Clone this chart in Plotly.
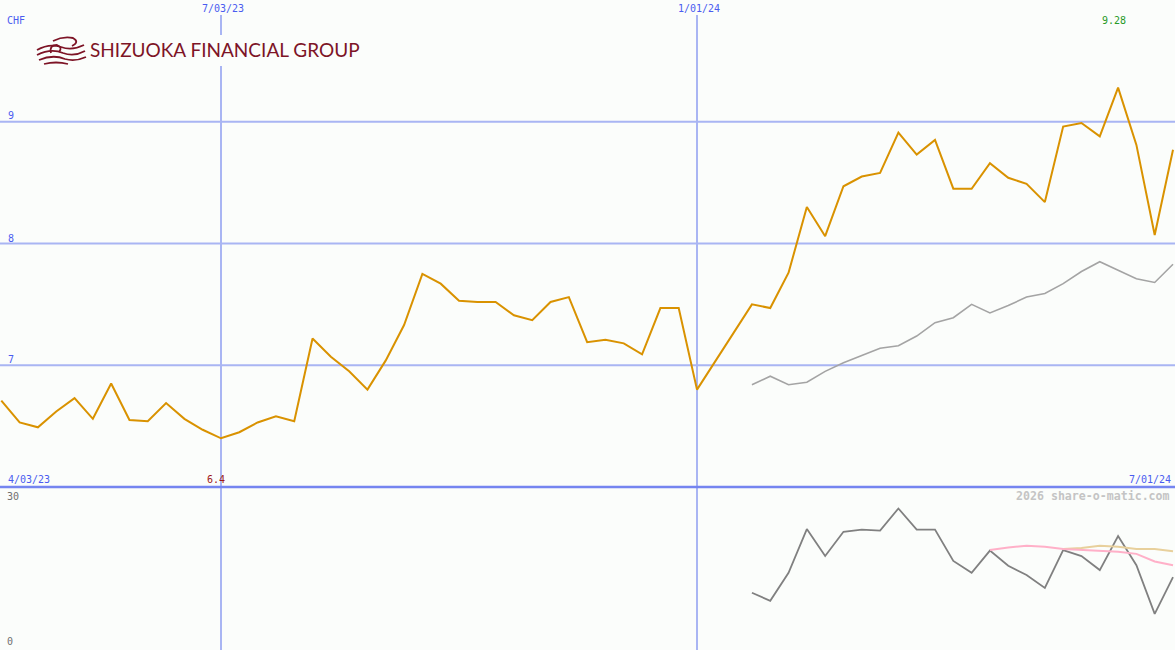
import plotly.graph_objects as go
import pandas as pd

W, H = 1175, 650

# ---- data ----
dates = pd.date_range("2023-04-10", periods=65, freq="7D")
price = [6.71, 6.53, 6.49, 6.62, 6.73, 6.56, 6.85, 6.55, 6.54, 6.69,
         6.56, 6.47, 6.40, 6.45, 6.53, 6.58, 6.54, 7.22, 7.07, 6.95,
         6.80, 7.04, 7.33, 7.75, 7.67, 7.53, 7.52, 7.52, 7.41, 7.37,
         7.52, 7.56, 7.19, 7.21, 7.18, 7.09, 7.47, 7.47, 6.80, 7.03,
         7.27, 7.50, 7.47, 7.76, 8.30, 8.06, 8.47, 8.55, 8.58, 8.91,
         8.73, 8.85, 8.45, 8.45, 8.66, 8.54, 8.49, 8.34, 8.96, 8.99,
         8.88, 9.28, 8.81, 8.07, 8.77]
avg_start = 41
avg = [6.84, 6.91, 6.84, 6.86, 6.95, 7.02, 7.08, 7.14, 7.16, 7.24,
       7.35, 7.39, 7.50, 7.43, 7.49, 7.56, 7.59, 7.67, 7.77, 7.85,
       7.78, 7.71, 7.68, 7.83]
osc = [10.6, 9.1, 14.3, 22.4, 17.4, 21.9, 22.3, 22.1, 26.2, 22.3,
       22.3, 16.5, 14.3, 18.4, 15.6, 13.9, 11.5, 18.5, 17.4, 14.8,
       21.1, 15.7, 6.7, 13.5]
pink_start = 54
pink = [18.5, 19.0, 19.3, 19.1, 18.7, 18.5, 18.3, 18.2, 17.8, 16.4, 15.7]
tan_start = 58
tan = [18.7, 18.9, 19.3, 19.1, 18.7, 18.7, 18.3]

grid_levels = [7, 8, 9]
vlines = ["2023-07-03", "2024-01-01"]
top_labels = ["7/03/23", "1/01/24"]
start_label, end_label = "4/03/23", "7/01/24"
max_label, min_label = "9.28", "6.4"
osc_labels = ["30", "0"]

x_range = ["2023-04-09 12:00", "2024-07-01 18:15"]

fig = go.Figure()
fig.add_trace(go.Scatter(x=dates, y=price, mode="lines",
                         line=dict(color="#d99200", width=2), xaxis="x", yaxis="y"))
fig.add_trace(go.Scatter(x=dates[avg_start:], y=avg, mode="lines",
                         line=dict(color="#a4a4a4", width=1.6), xaxis="x", yaxis="y"))
fig.add_trace(go.Scatter(x=dates[avg_start:], y=osc, mode="lines",
                         line=dict(color="#808080", width=1.8), xaxis="x", yaxis="y2"))
fig.add_trace(go.Scatter(x=dates[tan_start:], y=tan, mode="lines",
                         line=dict(color="#e8d09c", width=2), xaxis="x", yaxis="y2"))
fig.add_trace(go.Scatter(x=dates[pink_start:], y=pink, mode="lines",
                         line=dict(color="#ffb0c8", width=2), xaxis="x", yaxis="y2"))

shapes = []
grid_c = "#a9b5f3"
for g in grid_levels:
    shapes.append(dict(type="line", xref="paper", x0=0, x1=1, yref="y", y0=g, y1=g,
                       line=dict(color=grid_c, width=2), layer="below"))
for v in vlines:
    shapes.append(dict(type="line", xref="x", x0=v, x1=v, yref="paper",
                       y0=0, y1=1 - 15 / H, line=dict(color=grid_c, width=2), layer="below"))
# separator between panels
shapes.append(dict(type="line", xref="paper", x0=0, x1=1, yref="paper",
                   y0=1 - 487 / H, y1=1 - 487 / H, line=dict(color="#7585f0", width=2.5)))
# logo background (covers grid line)
shapes.append(dict(type="rect", xref="paper", yref="paper", x0=34 / W, x1=362 / W,
                   y0=1 - 66 / H, y1=1 - 35 / H, fillcolor="#fbfdfb", line=dict(width=0),
                   layer="below"))


def P(px, py):
    return f"{px / W:.5f},{1 - py / H:.5f}"


maroon = "#7d1426"
swirls = [
    f"M{P(37,50)} Q{P(49,43)} {P(61,47)} Q{P(72,51)} {P(84,45)}",
    f"M{P(37,55)} Q{P(51,48)} {P(63,53)} Q{P(74,57)} {P(85,51)}",
    f"M{P(39,60)} Q{P(53,54)} {P(65,59)} Q{P(75,62)} {P(86,57)}",
    f"M{P(44,64)} Q{P(56,61)} {P(68,64)}",
    f"M{P(53,41)} Q{P(63,36)} {P(73,38)} Q{P(80,42)} {P(72,46)}",
    f"M{P(51,53)} Q{P(49,45)} {P(57,45)} Q{P(63,47)} {P(59,52)}",
]
for sp in swirls:
    shapes.append(dict(type="path", xref="paper", yref="paper", path=sp,
                       line=dict(color=maroon, width=1.8)))

mono = "DejaVu Sans Mono"
blue = "#4a5cf0"
ann = []


def A(text, px, py, xa="left", ya="middle", color=blue, size=10, fam=mono):
    ann.append(dict(text=text, xref="paper", yref="paper", x=px / W, y=1 - py / H,
                    xanchor=xa, yanchor=ya, showarrow=False,
                    font=dict(family=fam, size=size, color=color)))


A("CHF", 5, 21)
A(top_labels[0], 223, 9, xa="center")
A(top_labels[1], 699, 9, xa="center")
A(max_label, 1114, 21, xa="center", color="#279a27")
for g, py in zip(grid_levels, [359, 238, 116]):
    A(str(g), 6, py)
A(start_label, 6, 479)
A(min_label, 216, 479, xa="center", color="#a01818")
A(end_label, 1173, 479, xa="right")
A(osc_labels[0], 5, 496, color="#707070")
A(osc_labels[1], 5, 641, color="#707070")
A("<b>2026 share-o-matic.com</b>", 1172, 496, xa="right", color="#c4c4c4", size=11.6)
A("SHIZUOKA FINANCIAL GROUP", 88, 50, color=maroon, size=19, fam="Lato")

fig.update_layout(
    width=W, height=H, margin=dict(l=0, r=0, t=0, b=0),
    paper_bgcolor="#fbfdfb", plot_bgcolor="#fbfdfb", showlegend=False,
    xaxis=dict(range=x_range, visible=False, fixedrange=True),
    yaxis=dict(range=[6.0, 10.0], domain=[1 - 487 / H, 1], visible=False),
    yaxis2=dict(range=[0, 30], domain=[0, 162 / H], visible=False),
    shapes=shapes, annotations=ann,
)
fig.write_html("out.html", config={"displayModeBar": False},
               post_script="document.body.style.margin='0';document.body.style.overflow='hidden';")
